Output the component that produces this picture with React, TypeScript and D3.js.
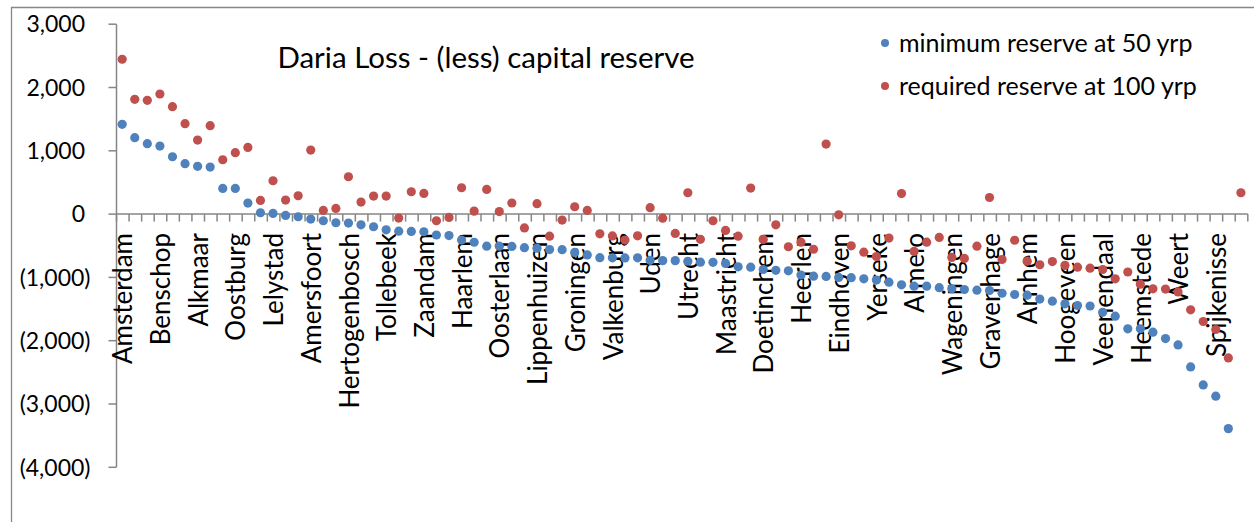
import React from "react";
import * as d3 from "d3";

const labeledTowns = [
  "Amsterdam", "Benschop", "Alkmaar", "Oostburg", "Lelystad", "Amersfoort",
  "Hertogenbosch", "Tollebeek", "Zaandam", "Haarlem", "Oosterlaan", "Lippenhuizen",
  "Groningen", "Valkenburg", "Uden", "Utrecht", "Maastricht", "Doetinchem",
  "Heerlen", "Eindhoven", "Yerseke", "Almelo", "Wageningen", "Gravenhage",
  "Arnhem", "Hoogeveen", "Veenendaal", "Heemstede", "Weert", "Spijkenisse",
];

const minReserve: (number | null)[] = [
  1418, 1207, 1112, 1075, 906, 796, 754, 743, 406, 406,
  174, 21, 10, -21, -42, -79, -105, -137, -142, -169,
  -200, -248, -270, -274, -279, -330, -340, -411, -445, -506,
  -506, -511, -530, -538, -560, -562, -606, -645, -688, -690,
  -693, -690, -730, -735, -735, -745, -760, -762, -780, -833,
  -838, -875, -888, -896, -964, -980, -985, -1001, -1005, -1022,
  -1043, -1075, -1117, -1138, -1138, -1162, -1181, -1191, -1202, -1207,
  -1250, -1270, -1281, -1342, -1375, -1418, -1444, -1452, -1552, -1613,
  -1813, -1813, -1866, -1966, -2066, -2414, -2699, -2877, -3389, null,
];

const requiredReserve: number[] = [
  2446, 1813, 1797, 1897, 1697, 1428, 1170, 1397, 859, 970,
  1054, 216, 527, 221, 290, 1012, 58, 90, 590, 190,
  285, 285, -63, 353, 327, -105, -53, 416, 47, 390,
  40, 175, -218, 165, -348, -95, 116, 58, -311, -345,
  -411, -343, 102, -65, -306, 337, -398, -105, -258, -348,
  411, -400, -170, -516, -443, -555, 1107, -11, -501, -601,
  -670, -379, 325, -590, -443, -369, -685, -700, -506, 262,
  -717, -413, -743, -800, -750, -810, -838, -854, -875, -1022,
  -915, -1107, -1181, -1184, -1230, -1512, -1697, -1823, -2272, 337,
];

const yTicks = [3000, 2000, 1000, 0, -1000, -2000, -3000, -4000];
const labelEvery = 3;
const chartTitle = "Daria Loss - (less) capital reserve";
const seriesNames = ["minimum reserve at 50 yrp", "required reserve at 100 yrp"];
const seriesColors = ["#4F81BD", "#C0504D"];

const FONT = "Lato, 'Open Sans', sans-serif";
const AXIS = "#868686";

export default function App() {
  const W = 1254, H = 522;
  const n = requiredReserve.length;
  const x = d3.scaleBand<number>().domain(d3.range(n)).range([116.5, 1247.8]).padding(0);
  const y = d3.scaleLinear().domain([-4000, 3000]).range([467.3, 24.2]);
  const fmt = d3.format(",");
  const tickLabel = (v: number) => (v < 0 ? `(${fmt(-v)})` : fmt(v));
  const cx = (i: number) => (x(i) as number) + x.bandwidth() / 2 - 0.6;
  const y0 = y(0);
  const xLeft = x.range()[0];
  const xRight = x.range()[1];

  return (
    <svg
      width={W}
      height={H}
      style={{ position: "absolute", left: 0, top: 0, background: "#fff" }}
      fontFamily={FONT}
    >
      <rect x={0} y={0} width={W} height={H} fill="#fff" />
      {/* chart frame */}
      <path d={`M11.5,${H + 2} V7.5 H${W + 2}`} fill="none" stroke={AXIS} strokeWidth={1.3} />

      {/* y axis */}
      <line x1={xLeft} x2={xLeft} y1={y(3000)} y2={y(-4000)} stroke={AXIS} strokeWidth={1.5} />
      {yTicks.map((t) => (
        <g key={t}>
          <line x1={xLeft - 8} x2={xLeft} y1={y(t)} y2={y(t)} stroke={AXIS} strokeWidth={1.5} />
          <text
            x={t < 0 ? 90.5 : 85}
            y={y(t)}
            dy="0.36em"
            textAnchor="end"
            fontSize={23}
            fill="#000"
          >
            {tickLabel(t)}
          </text>
        </g>
      ))}

      {/* category axis at zero */}
      <line x1={xLeft} x2={xRight} y1={y0} y2={y0} stroke={AXIS} strokeWidth={1.5} />
      {d3.range(n + 1).map((k) => {
        const xx = xLeft + k * x.step();
        return <line key={k} x1={xx} x2={xx} y1={y0} y2={y0 + 7.5} stroke={AXIS} strokeWidth={1.5} />;
      })}
      {d3.range(0, n, labelEvery).map((i) => (
        <text
          key={i}
          transform={`translate(${cx(i) + 0.8},233) rotate(-90)`}
          textAnchor="end"
          dy="0.36em"
          fontSize={26}
          fill="#000"
        >
          {labeledTowns[i / labelEvery]}
        </text>
      ))}

      {/* series */}
      {minReserve.map((v, i) =>
        v === null ? null : (
          <circle key={`b${i}`} cx={cx(i)} cy={y(v)} r={4.6} fill={seriesColors[0]} />
        )
      )}
      {requiredReserve.map((v, i) => (
        <circle key={`r${i}`} cx={cx(i)} cy={y(v)} r={4.6} fill={seriesColors[1]} />
      ))}

      {/* title */}
      <text x={486} y={68} textAnchor="middle" fontSize={29.5} fill="#000">
        {chartTitle}
      </text>

      {/* legend */}
      {seriesNames.map((s, k) => (
        <g key={s} transform={`translate(885,${43 + k * 43})`}>
          <circle cx={0} cy={0} r={4} fill={seriesColors[k]} />
          <text x={14} y={0} dy="0.36em" fontSize={25} fill="#000">
            {s}
          </text>
        </g>
      ))}
    </svg>
  );
}
